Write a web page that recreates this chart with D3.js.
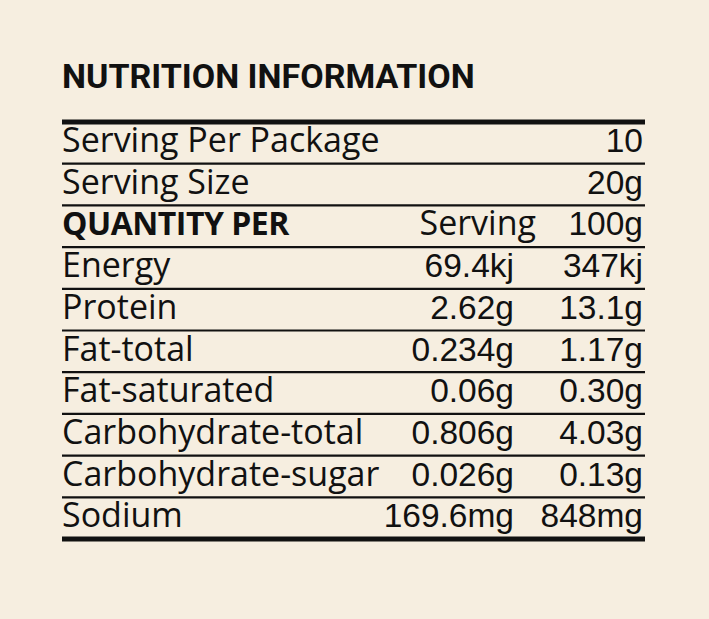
<!DOCTYPE html>
<html>
<head>
<meta charset="utf-8">
<script src="https://cdn.jsdelivr.net/npm/d3@7"></script>
<style>
  body { margin: 0; background: #f6eee0; }
  svg { display: block; }
  .label { font-family: "Open Sans", "Noto Sans", sans-serif; font-size: 34px; fill: #111; }
  .header { font-weight: 700; font-size: 32px; letter-spacing: -0.5px; }
  .value { font-family: "Liberation Sans", Arial, sans-serif; font-size: 33.5px; fill: #111; }
  .title { font-family: Roboto, "Liberation Sans", sans-serif; font-weight: 700; font-size: 34px; fill: #111; }
</style>
</head>
<body>
<div id="chart"></div>
<script>
// table layout
const svgWidth = 709,
    svgHeight = 619,
    left = 62,
    right = 645,
    tableTop = 122,
    tableBottom = 539,
    servingRight = 514,
    hundredRight = 643;

// data
const title = "NUTRITION INFORMATION";
const servingPerPackage = "10";
const servingSize = "20g";
const columnHeaders = ["Serving", "100g"];
const nutrients = ["Energy", "Protein", "Fat-total", "Fat-saturated", "Carbohydrate-total", "Carbohydrate-sugar", "Sodium"];
const perServing = ["69.4kj", "2.62g", "0.234g", "0.06g", "0.806g", "0.026g", "169.6mg"];
const per100g = ["347kj", "13.1g", "1.17g", "0.30g", "4.03g", "0.13g", "848mg"];

// build rows
let rows = [
    { label: "Serving Per Package", serving: null, hundred: servingPerPackage },
    { label: "Serving Size", serving: null, hundred: servingSize },
    { label: "QUANTITY PER", serving: columnHeaders[0], hundred: columnHeaders[1], header: true }
];
nutrients.forEach((n, i) => rows.push({ label: n, serving: perServing[i], hundred: per100g[i] }));

let svg = d3.select("#chart").append("svg")
    .attr("width", svgWidth)
    .attr("height", svgHeight);

let yScale = d3.scaleBand()
    .domain(d3.range(rows.length))
    .range([tableTop, tableBottom]);

// title
svg.append("text")
    .attr("class", "title")
    .attr("x", left)
    .attr("y", 88)
    .text(title);

// rules between rows
let bounds = d3.range(rows.length + 1);
svg.selectAll("line.rule")
    .data(bounds)
    .join("line")
    .attr("class", "rule")
    .attr("x1", left)
    .attr("x2", right)
    .attr("y1", (d) => d < rows.length ? yScale(d) : tableBottom)
    .attr("y2", (d) => d < rows.length ? yScale(d) : tableBottom)
    .attr("stroke", "#111")
    .attr("stroke-width", (d) => (d === 0 || d === rows.length) ? 5 : 2.2);

let rowG = svg.selectAll("g.row")
    .data(rows)
    .join("g")
    .attr("class", "row")
    .attr("transform", (d, i) => `translate(0, ${yScale(i) + 30})`);

rowG.append("text")
    .attr("class", (d) => d.header ? "label header" : "label")
    .attr("x", left)
    .text((d) => d.label);

// "Serving" header is in the label font
rowG.filter((d) => d.header)
    .append("text")
    .attr("class", "label")
    .attr("x", 536)
    .attr("text-anchor", "end")
    .text((d) => d.serving);

// numbers
rowG.filter((d) => d.serving != null && !d.header)
    .append("text")
    .attr("class", "value")
    .attr("x", servingRight)
    .attr("text-anchor", "end")
    .text((d) => d.serving);
rowG.append("text")
    .attr("class", "value")
    .attr("x", hundredRight)
    .attr("text-anchor", "end")
    .text((d) => d.hundred);
</script>
</body>
</html>
